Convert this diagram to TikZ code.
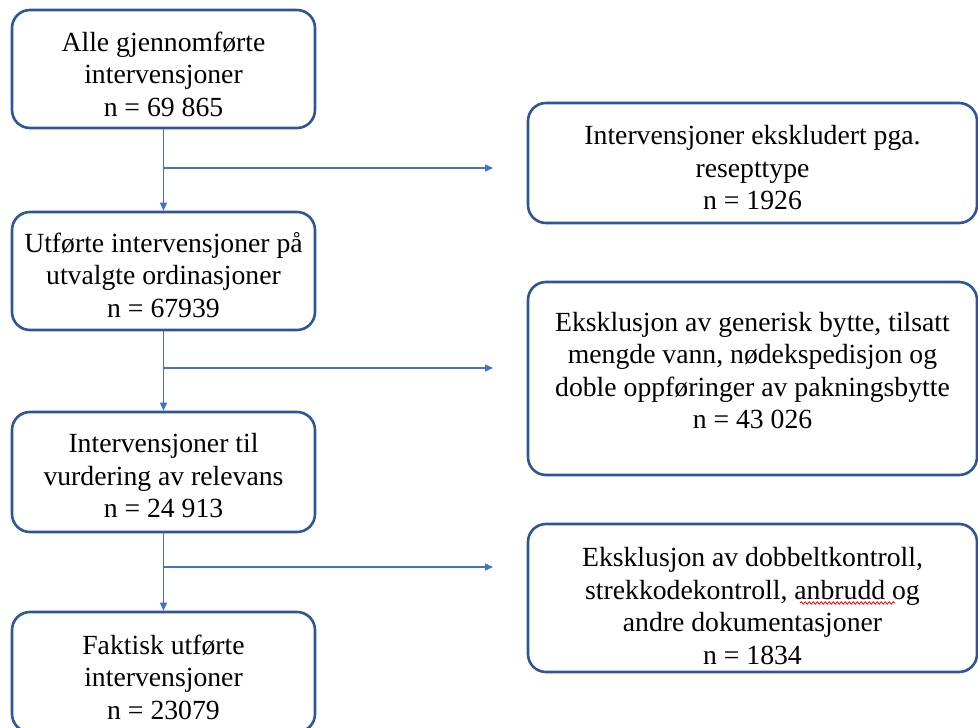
\documentclass[tikz,border=0pt]{standalone}
\usepackage{fontspec}
\setmainfont{Liberation Serif}
\usetikzlibrary{arrows.meta,decorations.pathmorphing}
\definecolor{boxblue}{HTML}{2F5597}
\definecolor{arrblue}{HTML}{4472C4}
\tikzset{
  flowbox/.style={draw=boxblue, line width=2.6pt, rounded corners=18pt, inner sep=0pt},
  leftbox/.style={flowbox, minimum width=303pt},
  rightbox/.style={flowbox, minimum width=449pt},
  boxtext/.style={align=center, inner sep=0pt, font=\fontsize{27.7}{32.5}\selectfont, text=black},
  conn/.style={draw=arrblue, line width=1.3pt, -{Triangle[length=8pt,width=7pt]}},
  squiggle/.style={draw=red, line width=0.8pt, decorate, decoration={snake, amplitude=1.2pt, segment length=4pt}}
}
\begin{document}
\begin{tikzpicture}[x=1pt,y=-1pt]
\useasboundingbox (0,0) rectangle (978,728);
\clip (0,0) rectangle (978,728);
\node[leftbox, minimum height=118pt] (b1) at (163.5,69) {};
\node[leftbox, minimum height=118pt] (b2) at (163.5,271) {};
\node[leftbox, minimum height=120pt] (b3) at (163.5,472) {};
\node[leftbox, minimum height=120pt] (b4) at (163.5,672) {};
\node[rightbox, minimum height=120pt] (r1) at (752.5,163) {};
\node[rightbox, minimum height=193pt] (r2) at (752.5,378.5) {};
\node[rightbox, minimum height=148pt] (r3) at (752.5,598) {};
\node[boxtext] (t1) at ([yshift=-5pt]b1.center) {Alle gjennomførte\\intervensjoner\\n = 69 865};
\node[boxtext] (t2) at ([yshift=-4pt]b2.center) {Utførte intervensjoner på\\utvalgte ordinasjoner\\n = 67939};
\node[boxtext] (t3) at ([yshift=-4pt]b3.center) {Intervensjoner til\\vurdering av relevans\\n = 24 913};
\node[boxtext] (t4) at ([yshift=-5pt]b4.center) {Faktisk utførte\\intervensjoner\\n = 23079};
\node[boxtext] (tr1) at ([yshift=-5pt]r1.center) {Intervensjoner ekskludert pga.\\resepttype\\n = 1926};
\node[boxtext] (tr2) at ([yshift=8pt]r2.center) {Eksklusjon av generisk bytte, tilsatt\\mengde vann, nødekspedisjon og\\doble oppføringer av pakningsbytte\\n = 43 026};
\node[boxtext] (tr3) at ([yshift=-8pt]r3.center) {Eksklusjon av dobbeltkontroll,\\strekkodekontroll, anbrudd og\\andre dokumentasjoner\\n = 1834};
\coordinate (j1) at (b1.south |- 0,168);
\coordinate (j2) at (b2.south |- 0,368);
\coordinate (j3) at (b3.south |- 0,567);
\coordinate (e1) at (493,168);
\coordinate (e2) at (493,368);
\coordinate (e3) at (493,567);
\draw[conn] (b1.south) -- (b2.north);
\draw[conn] (b2.south) -- (b3.north);
\draw[conn] (b3.south) -- (b4.north);
\draw[conn] (j1) -- (e1);
\draw[conn] (j2) -- (e2);
\draw[conn] (j3) -- (e3);
\coordinate (s1) at (800,603);
\coordinate (s2) at (895,603);
\draw[squiggle] (s1) -- (s2);
\end{tikzpicture}
\end{document}
